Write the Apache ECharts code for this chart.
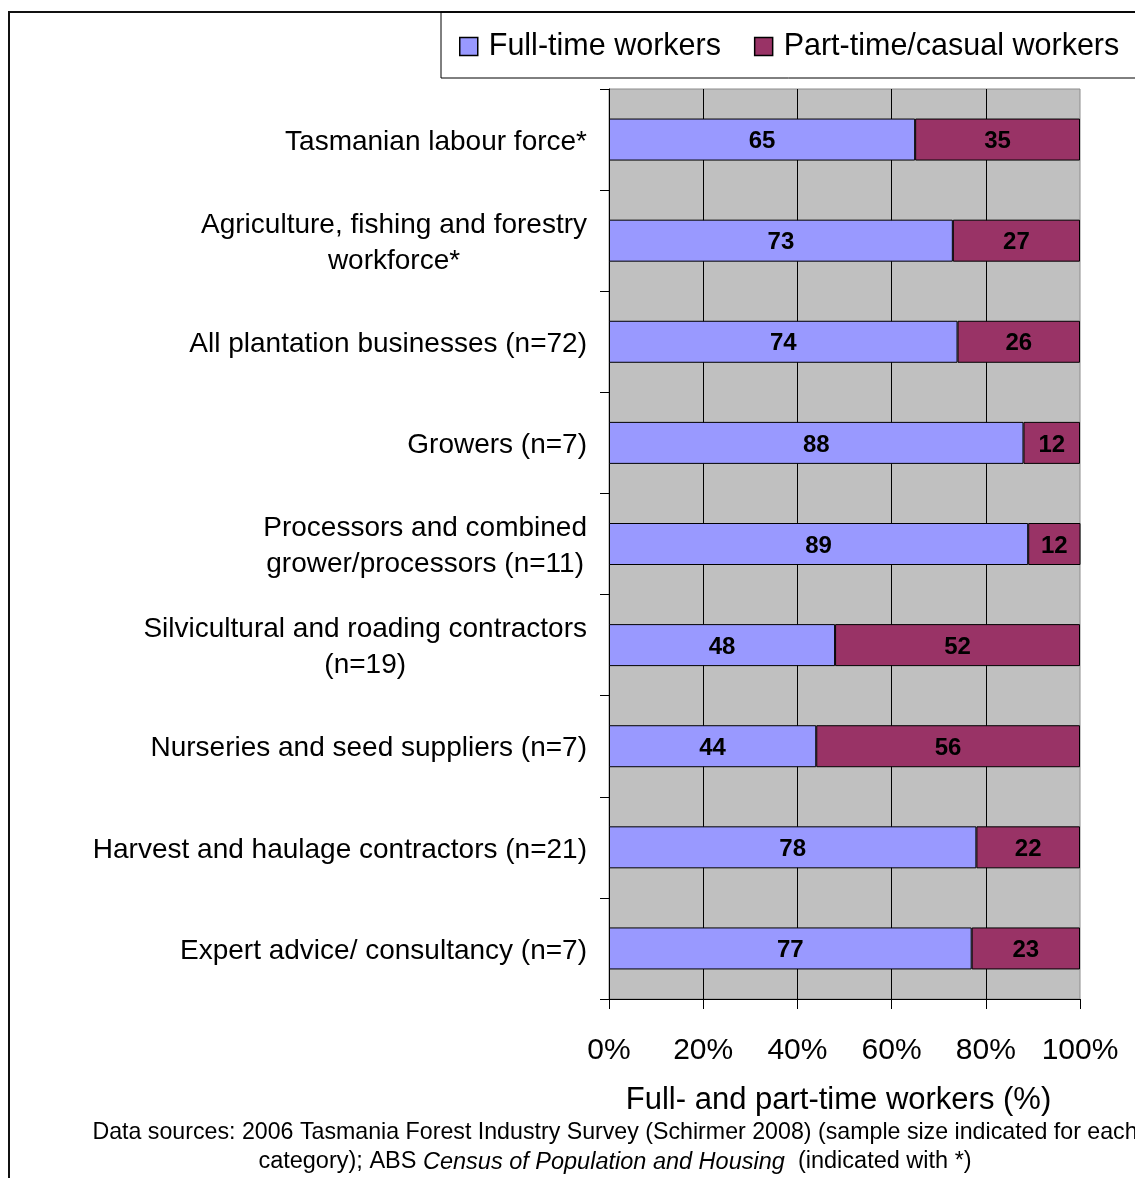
<!DOCTYPE html>
<html>
<head>
<meta charset="utf-8">
<script src="https://cdn.jsdelivr.net/npm/echarts@6/dist/echarts.min.js"></script>
<style>
  html, body { margin: 0; padding: 0; background: #fff; }
  #chart { width: 1135px; height: 1178px; }
</style>
</head>
<body>
<div id="chart"></div>
<script>
// Workforce composition by business category (percent of workers)
const categories = [
  'Tasmanian labour force*',
  'Agriculture, fishing and forestry\nworkforce*',
  'All plantation businesses (n=72)',
  'Growers (n=7)',
  'Processors and combined\ngrower/processors (n=11)',
  'Silvicultural and roading contractors\n(n=19)',
  'Nurseries and seed suppliers (n=7)',
  'Harvest and haulage contractors (n=21)',
  'Expert advice/ consultancy (n=7)'
];
const fullTime = [65, 73, 74, 88, 89, 48, 44, 78, 77];
const partTime = [35, 27, 26, 12, 12, 52, 56, 22, 23];
const xTicks = [0, 20, 40, 60, 80, 100];

const FONT = '"Liberation Sans", Arial, sans-serif';
const chart = echarts.init(document.getElementById('chart'), null, { renderer: 'canvas' });

const barLabel = {
  show: true,
  position: 'inside',
  offset: [0, 2],
  color: '#000',
  fontFamily: FONT,
  fontWeight: 'bold',
  fontSize: 24
};

chart.setOption({
  animation: false,
  backgroundColor: '#fff',
  textStyle: { fontFamily: FONT },
  legend: {
    left: 441,
    top: 12,
    width: 900,
    padding: [19, 24, 16, 18],
    itemGap: 33,
    itemWidth: 18,
    itemHeight: 18,
    borderColor: '#000',
    borderWidth: 1,
    icon: 'rect',
    textStyle: { fontFamily: FONT, fontSize: 30.5, color: '#000', padding: [0, 0, 0, 6] },
    data: [
      { name: 'Full-time workers', itemStyle: { borderColor: '#000', borderWidth: 1.5 } },
      { name: 'Part-time/casual workers', itemStyle: { borderColor: '#000', borderWidth: 1.5 } }
    ]
  },
  grid: {
    left: 609,
    top: 89,
    width: 471,
    height: 910,
    show: true,
    backgroundColor: '#C0C0C0',
    borderColor: '#8C8C8C',
    borderWidth: 1,
    containLabel: false
  },
  xAxis: {
    type: 'value',
    min: 0,
    max: 100,
    interval: 20,
    name: 'Full- and part-time workers (%)',
    nameLocation: 'middle',
    nameGap: 86,
    nameTextStyle: { fontFamily: FONT, fontSize: 31, color: '#000', padding: [0, 12, 0, 0] },
    axisLine: { show: true, lineStyle: { color: '#000', width: 1 } },
    axisTick: { show: true, length: 10, lineStyle: { color: '#000' } },
    axisLabel: {
      margin: 37,
      fontFamily: FONT,
      fontSize: 30,
      color: '#000',
      formatter: v => (xTicks.indexOf(v) >= 0 ? v + '%' : '')
    },
    splitLine: { show: true, showMinLine: false, showMaxLine: false, lineStyle: { color: '#000', width: 1 } }
  },
  yAxis: {
    type: 'category',
    inverse: true,
    data: categories,
    axisLine: { show: true, lineStyle: { color: '#000', width: 1 } },
    axisTick: { show: true, length: 9, lineStyle: { color: '#000' } },
    axisLabel: {
      margin: 22,
      color: '#000',
      fontFamily: FONT,
      fontSize: 28,
      lineHeight: 36,
      padding: [5, 0, 0, 0],
      formatter: v => v.split('\n').map(line => '{c|' + line + '}').join('\n'),
      rich: {
        c: { align: 'center', fontFamily: FONT, fontSize: 28, lineHeight: 36, color: '#000' }
      }
    }
  },
  series: [
    {
      name: 'Full-time workers',
      type: 'bar',
      stack: 'total',
      barWidth: 42,
      clip: true,
      data: fullTime,
      itemStyle: { color: '#9999FF', borderColor: '#000', borderWidth: 1 },
      label: barLabel
    },
    {
      name: 'Part-time/casual workers',
      type: 'bar',
      stack: 'total',
      barWidth: 42,
      clip: true,
      data: partTime,
      itemStyle: { color: '#993366', borderColor: '#000', borderWidth: 1 },
      label: barLabel
    }
  ],
  graphic: [
    {
      type: 'rect',
      silent: true,
      shape: { x: 9, y: 12, width: 1200, height: 1300 },
      style: { fill: 'none', stroke: '#111', lineWidth: 2 },
      z: -1
    },
    {
      type: 'text',
      x: 615,
      y: 1133,
      style: {
        text: 'Data sources: 2006 Tasmania Forest Industry Survey (Schirmer 2008) (sample size indicated for each',
        fontFamily: FONT,
        fontSize: 23.2,
        fill: '#000',
        align: 'center',
        verticalAlign: 'middle'
      }
    },
    {
      type: 'text',
      x: 615,
      y: 1162,
      style: {
        text: '{n|category); ABS }{i|Census of Population and Housing}{n|  (indicated with *)}',
        align: 'center',
        verticalAlign: 'middle',
        rich: {
          n: { fontFamily: FONT, fontSize: 23.5, fill: '#000', color: '#000' },
          i: { fontFamily: FONT, fontSize: 23.5, fontStyle: 'italic', fill: '#000', color: '#000' }
        }
      }
    }
  ]
});
</script>
</body>
</html>
